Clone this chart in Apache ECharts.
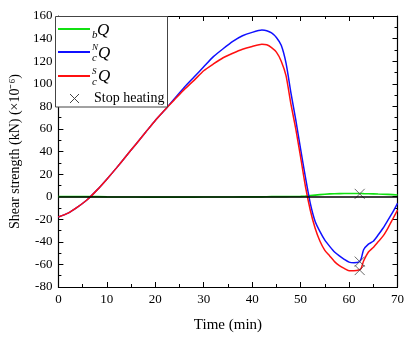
<!DOCTYPE html>
<html>
<head>
<meta charset="utf-8">
<script src="https://cdn.jsdelivr.net/npm/echarts@6/dist/echarts.min.js"></script>
<style>
html,body{margin:0;padding:0;background:#fff;}
#c{width:407px;height:338px;}
</style>
</head>
<body>
<div id="c"></div>
<script>
// Time grid (min)
var time = [0,2,4,6,8,10,12,14,16,18,20,22,24,26,28,30,32,34,36,38,40,42,43,44,45,46,47,48,49,50,51,52,53,54,55,56,57,58,59,60,61,62,62.5,63,64,65,66,67,68,69,70];
// bQ (green)
var bQ = [0,0,0,0,0,-0.2,-0.3,-0.3,-0.3,-0.4,-0.4,-0.4,-0.4,-0.4,-0.4,-0.3,-0.3,-0.3,-0.3,-0.2,-0.2,-0.2,-0.1,0,0,0,0,0.1,0.2,0.3,0.6,1,1.4,1.8,2.2,2.5,2.6,2.7,2.8,2.8,2.8,2.8,2.8,2.7,2.6,2.5,2.3,2.2,2.0,1.8,1.5];
// N_c Q (blue)
var ncQ = [-18,-14.5,-9,-2.5,6,15.5,25.5,36,46.5,57,67.5,77,87,97,106,115,124,131,137.5,142.5,145.5,147.5,147,145,141,134,118,92,68,42,17,-6,-22,-31,-38.5,-44,-49,-52.5,-55.5,-58,-58.5,-58,-55,-47,-42,-39.5,-34,-28,-21,-14,-6];
// S_c Q (red)
var scQ = [-18,-14.5,-9,-2.5,6,15.5,25.5,36,46.5,57,67.5,77,86,95,103,111.5,117.5,123,127,130.5,133,135,134.5,132,128,120,107,82,60,35,9,-12,-28,-39.5,-47.5,-52.5,-57.5,-61,-63.5,-65.5,-65.5,-65,-63.5,-57,-49,-45,-40,-35,-28,-20,-12];
// Stop heating markers
var stopT = [62.2,62.2,62.2];
var stopV = [2.5,-57.5,-65];
// Axis ticks
var xTicks = {min:0,max:70,interval:10};
var yTicks = {min:-80,max:160,interval:20};

function pairs(t,v){ return t.map(function(x,i){return [x,v[i]];}); }

var FONT = '"Liberation Serif","Times New Roman",serif';
var chart = echarts.init(document.getElementById('c'), null, {renderer:'canvas'});

function xAx(pos, labels){
  return {
    type:'value', position:pos, min:xTicks.min, max:xTicks.max, interval:xTicks.interval,
    name: labels ? 'Time (min)' : '', nameLocation:'middle', nameGap:31,
    nameTextStyle:{fontFamily:FONT,fontSize:15,color:'#000'},
    axisLine:{show:true,onZero:false,lineStyle:{color:'#000',width:1.2}},
    axisTick:{show:true,inside:true,length:5,lineStyle:{color:'#000',width:1}},
    minorTick:{show:true,splitNumber:2,length:3,lineStyle:{color:'#000',width:1}},
    axisLabel:{show:labels,fontFamily:FONT,fontSize:13,color:'#000',margin:6},
    splitLine:{show:false}
  };
}
function yAx(pos, labels){
  return {
    type:'value', position:pos, min:yTicks.min, max:yTicks.max, interval:yTicks.interval,
    name: labels ? 'Shear strength (kN) (×10⁻⁶)' : '', nameLocation:'middle', nameGap:33,
    nameTextStyle:{fontFamily:FONT,fontSize:14,color:'#000'},
    axisLine:{show:true,onZero:false,lineStyle:{color:'#000',width:1.2}},
    axisTick:{show:true,inside:true,length:5,lineStyle:{color:'#000',width:1}},
    minorTick:{show:true,splitNumber:2,length:3,lineStyle:{color:'#000',width:1}},
    axisLabel:{show:labels,fontFamily:FONT,fontSize:13,color:'#000',margin:6},
    splitLine:{show:false}
  };
}

var crossPath = 'path://M0,0L10,10M10,0L0,10';

var option = {
  animation:false,
  backgroundColor:'#fff',
  grid:{left:55,right:6,top:16,bottom:43,containLabel:false},
  xAxis:[xAx('bottom',true), xAx('top',false)],
  yAxis:[yAx('left',true), yAx('right',false)],
  series:[
    {type:'line', name:'zero', data:[], z:1, silent:true,
      markLine:{silent:true,symbol:'none',label:{show:false},
        lineStyle:{color:'#000',width:1.5,type:'solid'},data:[{yAxis:0}]}},
    {type:'line', name:'bQ', data:pairs(time,bQ), showSymbol:false, z:3,
      lineStyle:{color:'#11e011',width:1.6}},
    {type:'line', name:'NcQ', data:pairs(time,ncQ), showSymbol:false, smooth:0.2, z:3,
      lineStyle:{color:'#1010ff',width:1.5}},
    {type:'line', name:'ScQ', data:pairs(time,scQ), showSymbol:false, smooth:0.2, z:3,
      lineStyle:{color:'#ff1010',width:1.5}},
    {type:'scatter', name:'Stop heating', data:pairs(stopT,stopV), symbol:crossPath, symbolSize:10, z:4,
      itemStyle:{color:'rgba(0,0,0,0)',borderColor:'#444',borderWidth:1}}
  ],
  graphic:[
    {type:'rect', z:100, shape:{x:55.5,y:16.5,width:112,height:90.5},
      style:{fill:'#fff',stroke:'#444',lineWidth:1}},
    {type:'line', z:101, shape:{x1:58,y1:29,x2:90,y2:29}, style:{stroke:'#11e011',lineWidth:2}},
    {type:'line', z:101, shape:{x1:58,y1:52,x2:90,y2:52}, style:{stroke:'#1010ff',lineWidth:2}},
    {type:'line', z:101, shape:{x1:58,y1:76,x2:90,y2:76}, style:{stroke:'#ff1010',lineWidth:2}},
    {type:'text', z:101, x:92, y:35, style:{text:'b',font:'italic 11px '+FONT,fill:'#000',textVerticalAlign:'middle'}},
    {type:'text', z:101, x:97, y:31, style:{text:'Q',font:'italic 17px '+FONT,fill:'#000',textVerticalAlign:'middle'}},
    {type:'text', z:101, x:92, y:48, style:{text:'N',font:'italic 9px '+FONT,fill:'#000',textVerticalAlign:'middle'}},
    {type:'text', z:101, x:92, y:58, style:{text:'c',font:'italic 11px '+FONT,fill:'#000',textVerticalAlign:'middle'}},
    {type:'text', z:101, x:98, y:54, style:{text:'Q',font:'italic 17px '+FONT,fill:'#000',textVerticalAlign:'middle'}},
    {type:'text', z:101, x:92, y:72, style:{text:'S',font:'italic 9px '+FONT,fill:'#000',textVerticalAlign:'middle'}},
    {type:'text', z:101, x:92, y:82, style:{text:'c',font:'italic 11px '+FONT,fill:'#000',textVerticalAlign:'middle'}},
    {type:'text', z:101, x:98, y:77, style:{text:'Q',font:'italic 17px '+FONT,fill:'#000',textVerticalAlign:'middle'}},
    {type:'line', z:101, shape:{x1:70,y1:94,x2:79,y2:103}, style:{stroke:'#444',lineWidth:1}},
    {type:'line', z:101, shape:{x1:79,y1:94,x2:70,y2:103}, style:{stroke:'#444',lineWidth:1}},
    {type:'text', z:101, x:94, y:98, style:{text:'Stop heating',font:'14px '+FONT,fill:'#000',textVerticalAlign:'middle'}}
  ]
};
chart.setOption(option);
</script>
</body>
</html>
